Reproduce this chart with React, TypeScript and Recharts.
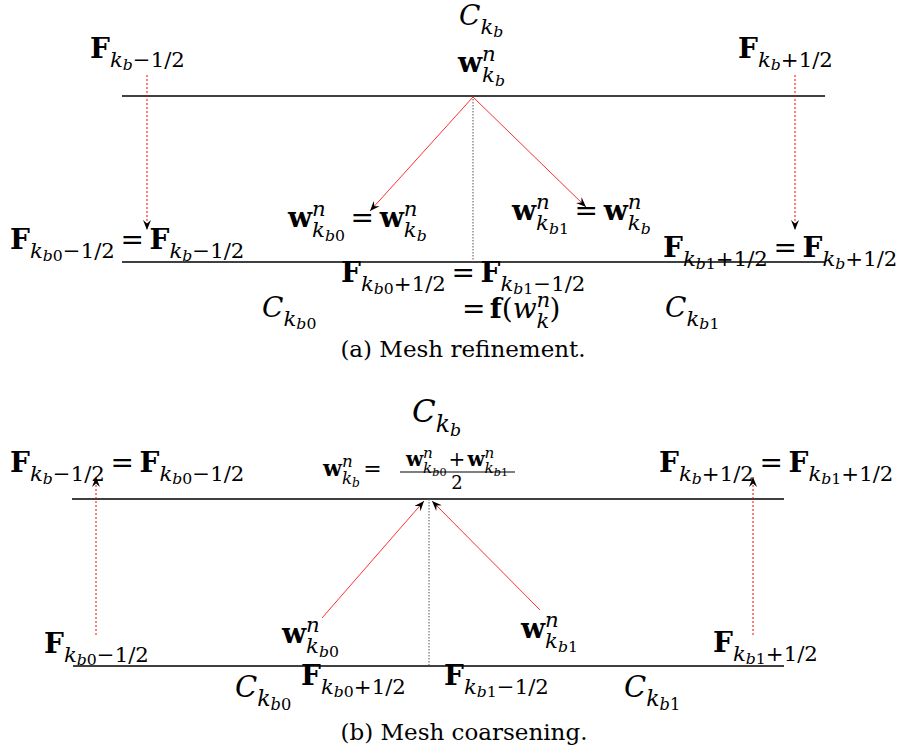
import React from "react";
import { ScatterChart, Scatter, XAxis, YAxis, ReferenceLine } from "recharts";

// diagram units = pixels of the 922x756 reference
type St = "bf" | "it" | "rm";
interface Piece { t: string; o: number; z: number; st: St; dx?: number }

const base = (t: string, st: St = "it"): Piece => ({ t, o: 0, z: 1, st });
const lo = (t: string, st: St = "it"): Piece => ({ t, o: 0.32, z: 0.76, st });
const lo2 = (t: string, st: St = "it"): Piece => ({ t, o: 0.44, z: 0.56, st });
const hi = (t: string, st: St = "it"): Piece => ({ t, o: -0.4, z: 0.76, st });
const gap = (p: Piece, dx: number): Piece => ({ ...p, dx });

const kb = (tail = ""): Piece[] =>
  tail ? [lo("k"), lo2("b"), lo2(tail, "rm")] : [lo("k"), lo2("b")];
const F = (tail: string, half: string): Piece[] => [base("F", "bf"), ...kb(tail), lo(half, "rm")];
const W = (tail: string): Piece[] => {
  const p: Piece[] = [
    base("w", "bf"),
    hi("n"),
    { t: "k", o: 0.36, z: 0.76, st: "it", dx: -0.49 },
    { t: "b", o: 0.5, z: 0.56, st: "it" },
  ];
  if (tail) p.push({ t: tail, o: 0.5, z: 0.56, st: "rm" });
  return p;
};
const C = (tail: string): Piece[] => [base("C"), ...kb(tail)];
const eq = (...rhs: Piece[][]): Piece[] => {
  const [first, ...rest] = rhs.flat();
  return [gap(base("=", "rm"), 0.2), gap(first, 0.2), ...rest];
};

const M = "\u22121/2";
const P = "+1/2";

// text labels: baseline-left position and content
const refinementLabels = [
  { x: 459, y: 25, fs: 28, pieces: C("") },
  { x: 90, y: 58, fs: 28, pieces: F("", M) },
  { x: 458, y: 72, fs: 28, pieces: W("") },
  { x: 738, y: 58, fs: 28, pieces: F("", P) },
  { x: 10, y: 249, fs: 28, pieces: [...F("0", M), ...eq(F("", M))] },
  { x: 288, y: 227, fs: 28, pieces: [...W("0"), ...eq(W(""))] },
  { x: 512, y: 220, fs: 28, pieces: [...W("1"), ...eq(W(""))] },
  { x: 663, y: 257, fs: 28, pieces: [...F("1", P), ...eq(F("", P))] },
  { x: 341, y: 282, fs: 28, pieces: [...F("0", P), ...eq(F("1", M))] },
  { x: 262, y: 317, fs: 28, pieces: C("0") },
  {
    x: 462, y: 318, fs: 28,
    pieces: [
      base("=", "rm"), gap(base("f", "bf"), 0.15), base("(", "rm"), base("w"), hi("n"),
      { t: "k", o: 0.36, z: 0.76, st: "it", dx: -0.49 } as Piece, base(")", "rm"),
    ],
  },
  { x: 665, y: 317, fs: 28, pieces: C("1") },
];

const coarseningLabels = [
  { x: 412, y: 422, fs: 31, pieces: C("") },
  { x: 10, y: 472, fs: 28, pieces: [...F("", M), ...eq(F("0", M))] },
  { x: 323, y: 476, fs: 22, pieces: [...W(""), gap(base("=", "rm"), 0.15)] },
  { x: 659, y: 472, fs: 28, pieces: [...F("", P), ...eq(F("1", P))] },
  { x: 44, y: 653, fs: 28, pieces: F("0", M) },
  { x: 282, y: 643, fs: 28, pieces: W("0") },
  { x: 521, y: 638, fs: 28, pieces: W("1") },
  { x: 713, y: 652, fs: 28, pieces: F("1", P) },
  { x: 235, y: 697, fs: 29, pieces: C("0") },
  { x: 301, y: 685, fs: 28, pieces: F("0", P) },
  { x: 444, y: 685, fs: 28, pieces: F("1", M) },
  { x: 624, y: 697, fs: 29, pieces: C("1") },
];

// fraction (w_kb0 + w_kb1) / 2
const fractionParts = [
  { x: 457, y: 466, fs: 20, pieces: [...W("0"), gap(base("+", "rm"), 0.1), gap(W("1")[0], 0.1), ...W("1").slice(1)], mid: true },
  { x: 457, y: 489, fs: 18, pieces: [base("2", "rm")], mid: true },
];
const fractionBar = [{ x1: 400, x2: 515, y: 472 }];

const captions = [
  { x: 463, y: 357, text: "(a) Mesh refinement." },
  { x: 464, y: 740, text: "(b) Mesh coarsening." },
];

const meshLines = [
  { x1: 122, x2: 825, y: 96 },
  { x1: 122, x2: 825, y: 262 },
  { x1: 72, x2: 784, y: 499 },
  { x1: 73, x2: 784, y: 666 },
];
const centerGuides = [
  { x: 473, y1: 96, y2: 262 },
  { x: 429, y1: 499, y2: 666 },
];
const fluxArrows = [
  { x1: 147, y1: 75, x2: 147, y2: 230 },
  { x1: 795, y1: 75, x2: 795, y2: 230 },
  { x1: 96, y1: 635, x2: 96, y2: 477 },
  { x1: 753, y1: 635, x2: 753, y2: 477 },
];
const stateArrows = [
  { x1: 473, y1: 97, x2: 370, y2: 211 },
  { x1: 473, y1: 97, x2: 586, y2: 207 },
  { x1: 322, y1: 618, x2: 424, y2: 501 },
  { x1: 540, y1: 610, x2: 432, y2: 501 },
];

const MATH = "'DejaVu Serif', serif";

function head(x1: number, y1: number, x2: number, y2: number) {
  const a = Math.atan2(y2 - y1, x2 - x1);
  const ux = Math.cos(a), uy = Math.sin(a);
  const nx = -uy, ny = ux;
  const L = 10, Wd = 4, N = 3.5;
  const d = `M${x2},${y2} L${x2 - L * ux + Wd * nx},${y2 - L * uy + Wd * ny} L${x2 - (L - N) * ux},${y2 - (L - N) * uy} L${x2 - L * ux - Wd * nx},${y2 - L * uy - Wd * ny} Z`;
  return <path d={d} fill="#000" />;
}

const lineShape =
  (stroke: string, width: number, dash?: string, arrow?: boolean) => (p: any) => (
    <g>
      <line x1={p.x1} y1={p.y1} x2={p.x2} y2={p.y2} stroke={stroke} strokeWidth={width} strokeDasharray={dash} />
      {arrow && head(p.x1, p.y1, p.x2, p.y2)}
    </g>
  );

function MathText({ x, y, fs, pieces, mid }: { x: number; y: number; fs: number; pieces: Piece[]; mid?: boolean }) {
  let prev = 0;
  return (
    <text x={x} y={y} fontFamily={MATH} fill="#000" textAnchor={mid ? "middle" : "start"}>
      {pieces.map((p, i) => {
        const dy = (p.o - prev) * fs;
        prev = p.o;
        return (
          <tspan
            key={i}
            dy={dy || undefined}
            dx={p.dx ? p.dx * fs : undefined}
            fontSize={p.z * fs}
            fontWeight={p.st === "bf" ? "bold" : "normal"}
            fontStyle={p.st === "it" ? "italic" : "normal"}
          >
            {p.t}
          </tspan>
        );
      })}
    </text>
  );
}

const labelShape = (props: any) => {
  const d = props.payload;
  return <MathText x={props.cx} y={props.cy} fs={d.fs} pieces={d.pieces} mid={d.mid} />;
};

const captionShape = (props: any) => (
  <text x={props.cx} y={props.cy} fontFamily={MATH} fontSize={23} textAnchor="middle" fill="#000">
    {props.payload.text}
  </text>
);

export default function App() {
  return (
    <div style={{ position: "absolute", left: 0, top: 0, background: "#fff" }}>
      <ScatterChart width={922} height={756} margin={{ top: 0, right: 0, bottom: 0, left: 0 }}>
        <XAxis type="number" dataKey="x" domain={[0, 922]} hide />
        <YAxis type="number" dataKey="y" domain={[0, 756]} reversed hide />
        {meshLines.map((l, i) => (
          <ReferenceLine key={`m${i}`} segment={[{ x: l.x1, y: l.y }, { x: l.x2, y: l.y }]} shape={lineShape("#000", 1.3)} />
        ))}
        {centerGuides.map((l, i) => (
          <ReferenceLine key={`g${i}`} segment={[{ x: l.x, y: l.y1 }, { x: l.x, y: l.y2 }]} shape={lineShape("#555", 1, "1.5 1.5")} />
        ))}
        {fluxArrows.map((l, i) => (
          <ReferenceLine key={`f${i}`} segment={[{ x: l.x1, y: l.y1 }, { x: l.x2, y: l.y2 }]} shape={lineShape("#ff0000", 1, "2 2", true)} />
        ))}
        {stateArrows.map((l, i) => (
          <ReferenceLine key={`s${i}`} segment={[{ x: l.x1, y: l.y1 }, { x: l.x2, y: l.y2 }]} shape={lineShape("#ff3030", 1, undefined, true)} />
        ))}
        {fractionBar.map((l, i) => (
          <ReferenceLine key={`b${i}`} segment={[{ x: l.x1, y: l.y }, { x: l.x2, y: l.y }]} shape={lineShape("#000", 1.2)} />
        ))}
        <Scatter data={refinementLabels} shape={labelShape} isAnimationActive={false} />
        <Scatter data={coarseningLabels} shape={labelShape} isAnimationActive={false} />
        <Scatter data={fractionParts} shape={labelShape} isAnimationActive={false} />
        <Scatter data={captions} shape={captionShape} isAnimationActive={false} />
      </ScatterChart>
    </div>
  );
}
